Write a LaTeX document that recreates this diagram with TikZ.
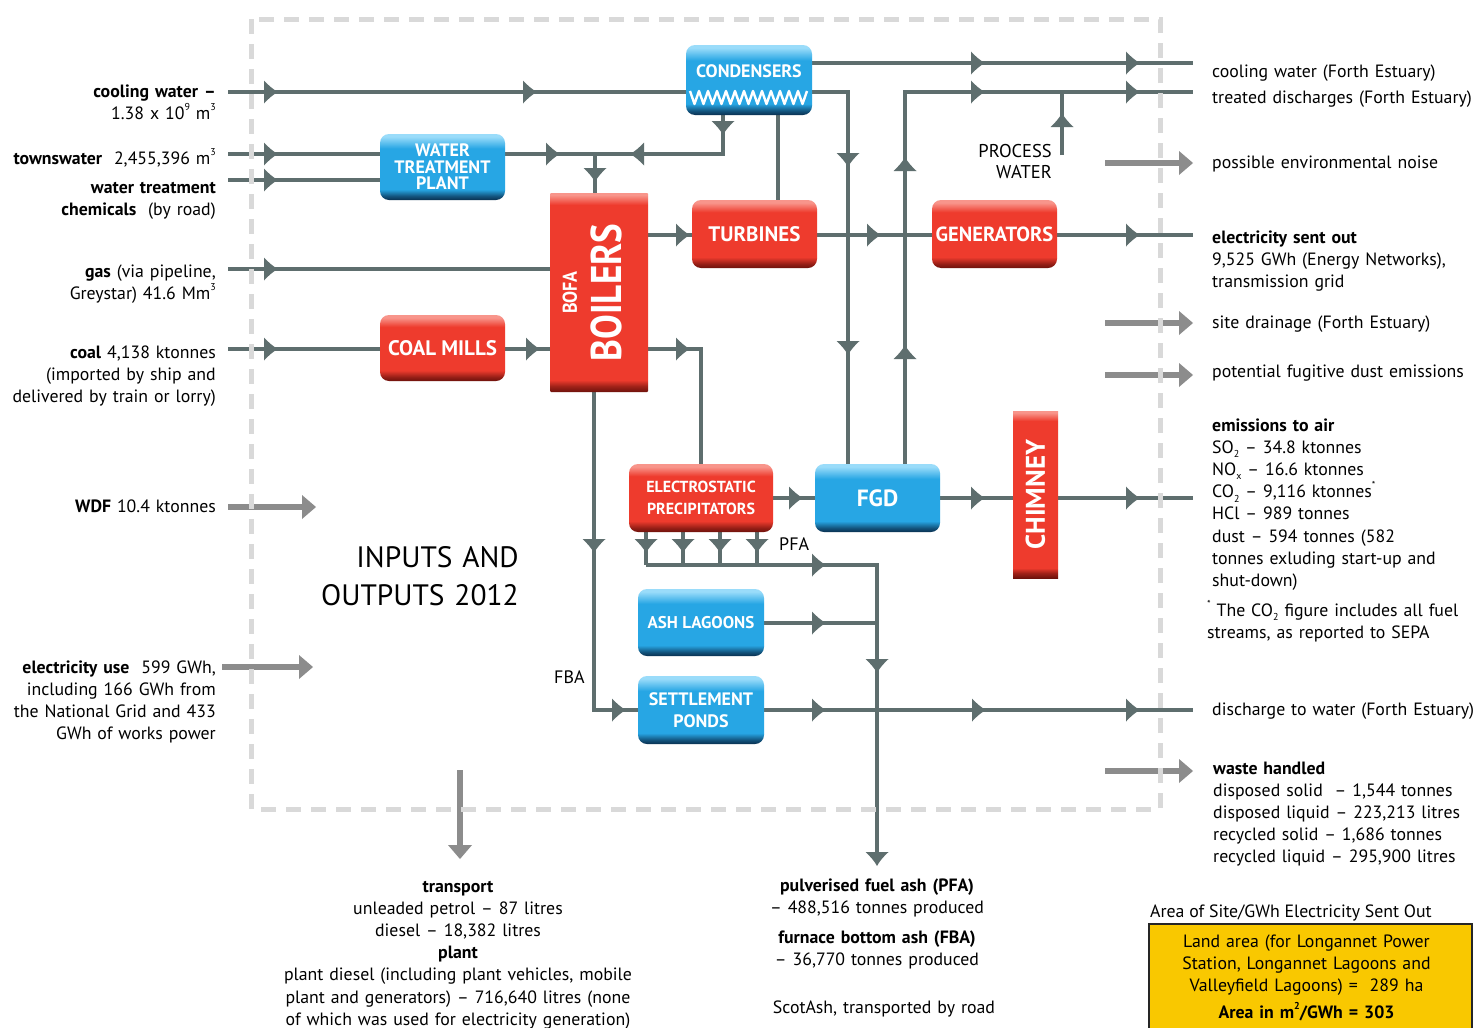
\documentclass[tikz,border=0pt]{standalone}
\usepackage{fontspec}
\setmainfont{PT Sans}
\usepackage{graphicx}
\definecolor{linec}{HTML}{5E6E6E}
\definecolor{lightarr}{HTML}{8C8C8C}
\definecolor{dashc}{HTML}{D9D9D9}
\definecolor{rdark}{HTML}{6E120C}
\definecolor{rmain}{HTML}{EE3B2D}
\definecolor{rlight}{HTML}{F8958B}
\definecolor{bdark}{HTML}{0A3050}
\definecolor{bmain}{HTML}{27A6E4}
\definecolor{blight}{HTML}{9ADCFA}
\definecolor{yell}{HTML}{F9C800}
\pgfdeclareverticalshading{redsh}{100bp}{color(0bp)=(rdark); color(25bp)=(rdark); color(28bp)=(rdark!70!rmain); color(33bp)=(rmain); color(66bp)=(rmain); color(73bp)=(rlight); color(100bp)=(rlight)}
\pgfdeclareverticalshading{bluesh}{100bp}{color(0bp)=(bdark); color(25bp)=(bdark); color(28bp)=(bdark!70!bmain); color(33bp)=(bmain); color(64bp)=(bmain); color(73bp)=(blight); color(100bp)=(blight)}
\pgfdeclareverticalshading{tallsh}{100bp}{color(0bp)=(rdark); color(25bp)=(rdark); color(26.5bp)=(rdark!60!rmain); color(28bp)=(rmain); color(72bp)=(rmain); color(74.5bp)=(rlight); color(100bp)=(rlight)}
\pgfdeclarelayer{bg}
\pgfsetlayers{bg,main}
\newcommand\mybody{\fontsize{17.8}{22.2}\selectfont}
\newcommand\spx[1]{\raisebox{0.5em}{\fontsize{10}{10}\selectfont #1}}
\newcommand\sbx[1]{\raisebox{-0.25em}{\fontsize{10}{10}\selectfont #1}}
\newcommand\dtip[2]{\fill[linec,shift={#1},rotate=#2] (0,0) .. controls (-4,-2) and (-9,-6) .. (-14,-11.5) -- (-14,11.5) .. controls (-9,6) and (-4,2) .. cycle;}
\newcommand\gtip[2]{\fill[lightarr,shift={#1},rotate=#2] (0,0) -- (-14,-12) -- (-14,12) -- cycle;}
\tikzset{
  flow/.style={draw=linec, line width=4.5pt},
  gflow/.style={draw=lightarr, line width=6pt},
  box/.style={rounded corners=9pt, inner sep=0pt, align=center, text=white, font=\bfseries\fontsize{18}{16.5}\selectfont, shade},
  redbox/.style={box, shading=redsh},
  bluebox/.style={box, shading=bluesh},
  tallbox/.style={box, shading=tallsh, rounded corners=1pt},
  lt/.style={anchor=base east, align=right, text width=240pt, inner sep=0pt, font=\mybody},
  rt/.style={anchor=base west, align=left, text width=268pt, inner sep=0pt, font=\mybody},
  ct/.style={anchor=base, align=center, text width=370pt, inner sep=0pt, font=\mybody},
}
\begin{document}
\begin{tikzpicture}[x=1pt,y=-1pt]
\useasboundingbox (0,0) rectangle (1478,1028);
% ---------- boxes ----------
\node[bluebox, minimum width=125pt, minimum height=66pt] (wtp) at (442.5,167) {WATER\\TREATMENT\\PLANT};
\node[bluebox, minimum width=126pt, minimum height=70pt] (cond) at (749,80) {\raisebox{9pt}[\height][\depth]{CONDENSERS}};
\node[tallbox, minimum width=98pt, minimum height=199pt] (boil) at (599,292.5)
  {\rotatebox{90}{\vbox{\offinterlineskip\halign{\hfil#\hfil\cr
    \scalebox{0.9}[1]{\fontsize{20}{20}\selectfont BOFA}\cr\noalign{\kern14pt}
    \scalebox{0.86}[1]{\fontsize{43}{43}\selectfont BOILERS}\cr\noalign{\kern13pt}}}}};
\node[redbox, minimum width=125pt, minimum height=68pt, font=\bfseries\fontsize{21}{21}\selectfont] (turb) at (754.5,234) {TURBINES};
\node[redbox, minimum width=125pt, minimum height=68pt, font=\bfseries\fontsize{20.5}{20}\selectfont] (gen) at (994.5,234) {GENERATORS};
\node[redbox, minimum width=125pt, minimum height=66pt, font=\bfseries\fontsize{21}{21}\selectfont] (mills) at (442.5,348) {COAL MILLS};
\node[redbox, minimum width=144pt, minimum height=68pt, font=\bfseries\fontsize{16}{22}\selectfont] (esp) at (701,498) {ELECTROSTATIC\\PRECIPITATORS};
\node[bluebox, minimum width=125pt, minimum height=68pt, font=\bfseries\fontsize{23.5}{22}\selectfont] (fgd) at (877.5,498) {FGD};
\node[tallbox, rounded corners=0pt, minimum width=45pt, minimum height=167pt, font=\bfseries\fontsize{27}{27}\selectfont] (chim) at (1035.5,494.5) {\rotatebox{90}{CHIMNEY}};
\node[bluebox, minimum width=126pt, minimum height=67pt, font=\bfseries\fontsize{17}{17}\selectfont] (ash) at (701,622.5) {ASH LAGOONS};
\node[bluebox, minimum width=126pt, minimum height=68pt, font=\bfseries\fontsize{18}{22}\selectfont] (ponds) at (701,710) {SETTLEMENT\\PONDS};
% condenser zigzag
\draw[white, line width=2.4pt, line join=round] (690,91) \foreach \k in {0,...,12} { -- ({694.5+9*\k},104) -- ({699+9*\k},91) };
% ---------- connectors ----------
\begin{pgfonlayer}{bg}
\fill[white] (0,0) rectangle (1478,1028);
\coordinate (i1) at (228,92);
\coordinate (i2) at (228,154);
\coordinate (i3) at (228,180);
\coordinate (i4) at (228,269);
\coordinate (i5) at (228,349);
\draw[flow] (i1) -- (i1 -| cond.west);
\draw[flow] (i2) -- (i2 -| wtp.west);
\draw[flow] (i3) -- (i3 -| wtp.west);
\draw[flow] (i4) -- (i4 -| boil.west);
\draw[flow] (i5) -- (i5 -| mills.west);
\coordinate (jc) at (723,154);
\coordinate (jb) at (595,154);
\draw[flow] (wtp.east |- jc) -- (jc) -- (jc |- cond.south);
\draw[flow] (jb) -- (jb |- boil.north);
\coordinate (ct) at (778,150);
\draw[flow] (ct |- cond.south) -- (ct |- turb.north);
\coordinate (o1) at (1193,63);
\draw[flow] (cond.east |- o1) -- (o1);
\coordinate (c848) at (848,92);
\draw[flow] (cond.east |- c848) -- (c848) -- (c848 |- fgd.north);
\coordinate (c905) at (905,92);
\coordinate (o2) at (1193,92);
\draw[flow] (c905 |- fgd.north) -- (c905) -- (o2);
\coordinate (pw) at (1062,155);
\draw[flow] (pw) -- (pw |- o2);
\coordinate (ly) at (0,235);
\coordinate (o3) at (1193,235);
\draw[flow] (boil.east |- ly) -- (turb.west |- ly);
\draw[flow] (turb.east |- ly) -- (gen.west |- ly);
\draw[flow] (gen.east |- ly) -- (o3);
\draw[flow] (mills.east |- i5) -- (boil.west |- i5);
\coordinate (c701) at (701,349);
\draw[flow] (boil.east |- c701) -- (c701) -- (c701 |- esp.north);
\coordinate (c594) at (594,710);
\draw[flow] (c594 |- boil.south) -- (c594) -- (ponds.west |- c594);
\draw[flow] (esp.east) -- (fgd.west);
\draw[flow] (fgd.east) -- (chim.west |- fgd.east);
\coordinate (o4) at (1193,498);
\draw[flow] (chim.east |- o4) -- (o4);
\coordinate (p1) at (646,565);
\coordinate (p2) at (683,565);
\coordinate (p3) at (720,565);
\coordinate (p4) at (757,565);
\coordinate (pj) at (877,565);
\coordinate (pend) at (877,862);
\foreach \p in {p1,p2,p3,p4} {\draw[flow] (\p |- esp.south) -- (\p);}
\draw[flow] (p1) -- (pj) -- (pend);
\draw[flow] (ash.east |- 0,623) -- (pj |- 0,623);
\coordinate (o5) at (1193,710);
\draw[flow] (ponds.east |- o5) -- (o5);
% light grey arrows
\coordinate (g1) at (1105,163); \coordinate (g1e) at (1180,163);
\coordinate (g2) at (1105,323); \coordinate (g2e) at (1180,323);
\coordinate (g3) at (1105,375); \coordinate (g3e) at (1180,375);
\coordinate (g4) at (1105,771); \coordinate (g4e) at (1180,771);
\coordinate (g5) at (228,507); \coordinate (g5e) at (303,507);
\coordinate (g6) at (222,667); \coordinate (g6e) at (300,667);
\coordinate (g7) at (460,770); \coordinate (g7e) at (460,846);
\foreach \a/\b in {g1/g1e,g2/g2e,g3/g3e,g4/g4e,g5/g5e,g6/g6e,g7/g7e} {\draw[gflow] (\a) -- (\b);}
\end{pgfonlayer}
% arrow heads
\foreach \pt/\an in {{(278,92)}/0,{(537,92)}/0,{(278,154)}/0,{(278,180)}/0,{(278,269)}/0,{(278,349)}/0,
  {(560,154)}/0,{(630,154)}/180,{(723,135)}/-90,{(595,182)}/-90,
  {(985,63)}/0,{(1140,63)}/0,{(848,167)}/-90,{(848,355)}/-90,{(905,157)}/90,{(905,345)}/90,
  {(985,92)}/0,{(1140,92)}/0,{(1062,113)}/90,
  {(690,235)}/0,{(881,235)}/0,{(1140,235)}/0,{(540,349)}/0,{(690,349)}/0,
  {(594,553)}/-90,{(626,710)}/0,{(803,498)}/0,{(985,498)}/0,{(1140,498)}/0,
  {(646,553)}/-90,{(683,553)}/-90,{(720,553)}/-90,{(757,553)}/-90,
  {(826,565)}/0,{(877,673)}/-90,{(877,866)}/-90,{(826,623)}/0,
  {(826,710)}/0,{(986,710)}/0,{(1140,710)}/0}
  {\dtip{\pt}{\an}}
\foreach \pt/\an in {{(1193,163)}/0,{(1193,323)}/0,{(1193,375)}/0,{(1193,771)}/0,{(316,507)}/0,{(313,667)}/0,{(460,859)}/-90}
  {\gtip{\pt}{\an}}
% dashed frame
\draw[dashc, line width=5pt, dash pattern=on 15pt off 10pt] (251,19) rectangle (1160,809);
% ---------- texts ----------
\node[lt] (tcool) at (216,97) {\textbf{cooling water –}\\1.38 x 10\spx{9} m\spx{3}};
\node[lt] (ttown) at (216,164) {\textbf{townswater}\ \ 2,455,396 m\spx{3}};
\node[lt] (tchem) at (216,193) {\textbf{water treatment}\\\textbf{chemicals}\ \ (by road)};
\node[lt] (tgas) at (216,277) {\textbf{gas} (via pipeline,\\Greystar) 41.6 Mm\spx{3}};
\node[lt] (tcoal) at (216,358) {\textbf{coal} 4,138 ktonnes\\(imported by ship and\\delivered by train or lorry)};
\node[lt] (twdf) at (216,512) {\textbf{WDF} 10.4 ktonnes};
\node[lt] (telec) at (216,673) {\textbf{electricity use}\ \ 599 GWh,\\including 166 GWh from\\the National Grid and 433\\GWh of works power};
\node[anchor=base east, align=right, text width=300pt, inner sep=0pt, font=\fontsize{29.5}{38}\selectfont] (title) at (519,567) {INPUTS AND\\OUTPUTS 2012};
\node[anchor=base east, align=right, text width=100pt, inner sep=0pt, font=\fontsize{18.5}{21}\selectfont] (pwl) at (1052,157) {PROCESS\\WATER};
\node[anchor=base west, inner sep=0pt, font=\fontsize{18}{18}\selectfont] (pfal) at (779,550) {PFA};
\node[anchor=base west, inner sep=0pt, font=\fontsize{18}{18}\selectfont] (fbal) at (554,683) {FBA};
\node[rt] (r1) at (1212,77) {cooling water (Forth Estuary)};
\node[rt] (r2) at (1212,103) {treated discharges (Forth Estuary)};
\node[rt] (r3) at (1212,168) {possible environmental noise};
\node[rt] (r4) at (1212,243) {\textbf{electricity sent out}\\9,525 GWh (Energy Networks),\\transmission grid};
\node[rt] (r5) at (1212,328) {site drainage (Forth Estuary)};
\node[rt] (r6) at (1212,377) {potential fugitive dust emissions};
\node[rt] (r7) at (1212,431) {\textbf{emissions to air}\\SO\sbx{2} – 34.8 ktonnes\\NO\sbx{x} – 16.6 ktonnes\\CO\sbx{2} – 9,116 ktonnes\spx{*}\\HCl – 989 tonnes\\dust – 594 tonnes (582\\tonnes exluding start-up and\\shut-down)};
\node[rt] (r8) at (1207,616) {\spx{*} The CO\sbx{2} figure includes all fuel\\streams, as reported to SEPA};
\node[rt] (r9) at (1212,715) {discharge to water (Forth Estuary)};
\node[rt] (r10) at (1213,774) {\textbf{waste handled}\\disposed solid\ \ – 1,544 tonnes\\disposed liquid – 223,213 litres\\recycled solid – 1,686 tonnes\\recycled liquid – 295,900 litres};
\node[ct] (b1) at (458,892) {\textbf{transport}\\unleaded petrol – 87 litres\\diesel – 18,382 litres\\\textbf{plant}\\plant diesel (including plant vehicles, mobile\\plant and generators) – 716,640 litres (none\\of which was used for electricity generation)};
\node[ct] (b2) at (877,891) {\textbf{pulverised fuel ash (PFA)}\\– 488,516 tonnes produced};
\node[ct] (b3) at (877,943) {\textbf{furnace bottom ash (FBA)}\\– 36,770 tonnes produced};
\node[ct] (b4) at (884,1013) {ScotAsh, transported by road};
\node[anchor=base west, inner sep=0pt, font=\mybody] (areat) at (1150,917) {Area of Site/GWh Electricity Sent Out};
\node[draw=black!85, line width=1.5pt, fill=yell, anchor=north, text width=323pt, align=center, inner xsep=0pt, inner ysep=11pt, font=\mybody] (area) at (1310.5,923)
  {\hspace*{-8pt}Land area (for Longannet Power\\\hspace*{-8pt}Station, Longannet Lagoons and\\\hspace*{-8pt}Valleyfield Lagoons) =\ \ 289 ha\\[4pt]\hspace*{-8pt}\textbf{Area in m\spx{2}/GWh = 303}};
\end{tikzpicture}
\end{document}
